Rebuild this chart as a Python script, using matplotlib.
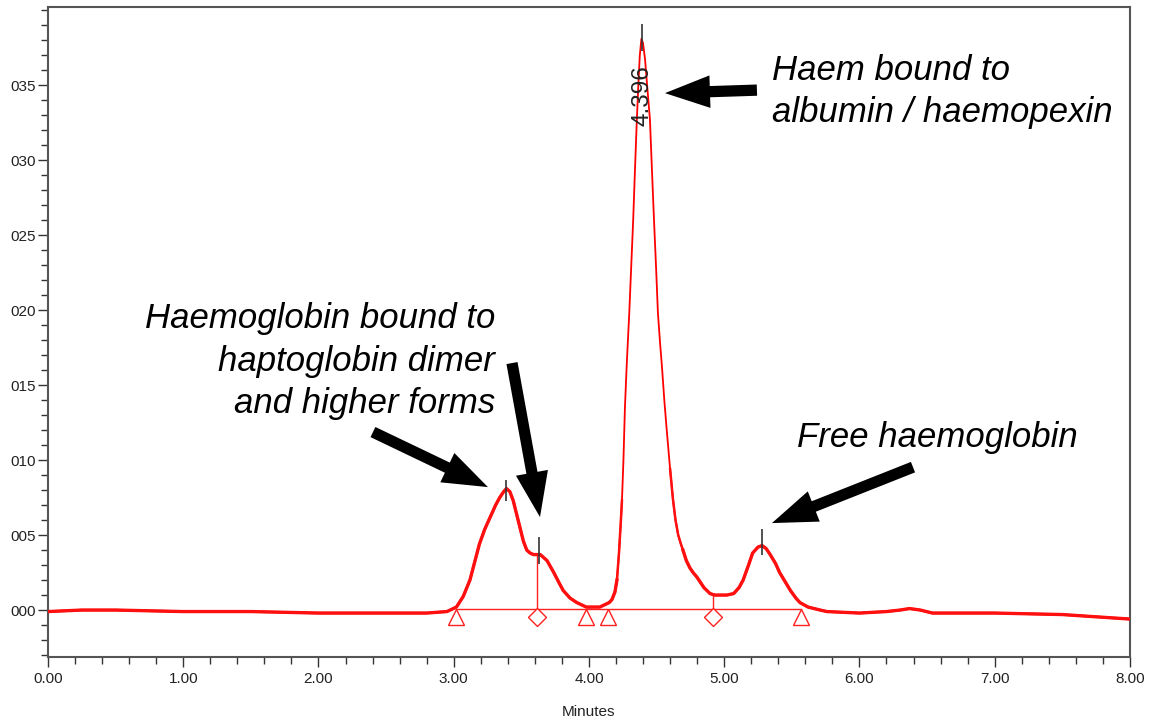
#!/usr/bin/env python3

import numpy as np
import matplotlib
matplotlib.use('Agg')
import matplotlib.pyplot as plt
from matplotlib.ticker import MultipleLocator, FuncFormatter
from matplotlib.patches import FancyArrowPatch

plt.rcParams['font.family'] = ['Liberation Sans', 'DejaVu Sans']

# chromatogram trace (minutes, AU)
t_min = [0.00, 0.25, 0.50, 1.00, 1.50, 2.00, 2.50, 2.80, 2.95, 3.02,
         3.07, 3.12, 3.155, 3.19, 3.23, 3.27, 3.31, 3.34, 3.37, 3.39,
         3.415, 3.44, 3.465, 3.49, 3.515, 3.54, 3.565, 3.59, 3.64, 3.69,
         3.74, 3.78, 3.81, 3.86, 3.91, 3.98, 4.08, 4.15, 4.170, 4.192,
         4.207, 4.222, 4.235, 4.244, 4.255, 4.266, 4.280, 4.298, 4.312, 4.327,
         4.340, 4.352, 4.365, 4.376, 4.388, 4.400, 4.415, 4.430, 4.451, 4.466,
         4.481, 4.496, 4.510, 4.525, 4.540, 4.558, 4.577, 4.600, 4.621, 4.640,
         4.660, 4.680, 4.695, 4.720, 4.747, 4.770, 4.798, 4.85, 4.895, 4.93,
         4.97, 5.02, 5.07, 5.11, 5.14, 5.18, 5.21, 5.25, 5.28, 5.31,
         5.34, 5.38, 5.41, 5.45, 5.49, 5.53, 5.56, 5.62, 5.71, 5.76,
         6.00, 6.20, 6.30, 6.37, 6.45, 6.54, 7.00, 7.50, 8.00]
absorb = [-0.0001, 0.0000, 0.0000, -0.0001, -0.0001, -0.0002, -0.0002, -0.0002, -0.0001, 0.0002,
          0.0009, 0.0020, 0.0032, 0.0044, 0.0054, 0.0062, 0.0070, 0.0075, 0.0079, 0.0081,
          0.0079, 0.0073, 0.0064, 0.0055, 0.0046, 0.0040, 0.0038, 0.0037, 0.0037, 0.0033,
          0.0025, 0.0018, 0.0013, 0.0008, 0.0005, 0.0002, 0.0002, 0.0005, 0.0007, 0.0012,
          0.0020, 0.0038, 0.0058, 0.0073, 0.0100, 0.0135, 0.0165, 0.0198, 0.0228, 0.0260,
          0.0293, 0.0322, 0.0350, 0.0370, 0.0381, 0.0378, 0.0367, 0.0350, 0.0327, 0.0293,
          0.0260, 0.0229, 0.0198, 0.0179, 0.0162, 0.0139, 0.0118, 0.0094, 0.0074, 0.0060,
          0.0050, 0.0044, 0.0040, 0.0033, 0.0028, 0.0025, 0.0022, 0.0015, 0.0011, 0.0010,
          0.0010, 0.0010, 0.0011, 0.0015, 0.0020, 0.0030, 0.0038, 0.0042, 0.0043, 0.0041,
          0.0037, 0.0031, 0.0025, 0.0019, 0.0013, 0.0008, 0.0005, 0.0002, 0.0000, -0.0001,
          -0.0002, -0.0001, 0.0000, 0.0001, 0.0000, -0.0002, -0.0002, -0.0003, -0.0006]

# integration marks
base_t = [3.02, 5.57]
base_v = 0.00007
tri_t = [3.02, 3.98, 4.14, 5.57]
dia_t = [3.615, 4.915]
drop_top = [0.0037, 0.0011]

# peak apex ticks
apex_t = [3.39, 3.63, 4.39, 5.28]
apex_lo = [0.0073, 0.0031, 0.0373, 0.0037]
apex_hi = [0.0087, 0.0049, 0.0391, 0.0054]

t = np.array(t_min)
v = np.array(absorb)

fig = plt.figure(figsize=(11.53, 7.2), dpi=100)
ax = fig.add_axes([0.0416, 0.0875, 0.9384, 0.9025])

# noisy parts drawn thick, main peak thin, a medium width in between
ax.plot(t, v, color='#ff0000', lw=1.3, zorder=3)
v_mid = np.where((t > 4.25) & (t < 4.60), np.nan, v)
ax.plot(t, v_mid, color='#ff1010', lw=1.8, zorder=3)
v_thick = np.where((t > 4.21) & (t < 4.69), np.nan, v)
ax.plot(t, v_thick, color='#ff1010', lw=2.4, zorder=3)

ax.plot(base_t, [base_v, base_v], color='#ff2020', lw=1.0, zorder=2)
for dt, top in zip(dia_t, drop_top):
    ax.plot([dt, dt], [base_v, top], color='#ff2020', lw=1.0, zorder=2)
ax.plot(tri_t, [base_v - 0.00055] * len(tri_t), ls='none', marker='^', ms=12,
        mfc='white', mec='#ff2020', mew=1.0, zorder=4)
ax.plot(dia_t, [base_v - 0.00055] * len(dia_t), ls='none', marker='D', ms=9,
        mfc='white', mec='#ff2020', mew=1.0, zorder=4)

ax.vlines(apex_t, apex_lo, apex_hi, color='#333333', lw=1.2, zorder=5)
ax.text(4.398, 0.0343, '4.396', rotation=90, ha='center', va='center',
        fontsize=17.5, color='#222222', zorder=6)

ax.set_xlim(0, 8)
ax.set_ylim(-0.00313, 0.0402)
ax.xaxis.set_major_locator(MultipleLocator(1.0))
ax.xaxis.set_minor_locator(MultipleLocator(0.2))
ax.set_yticks(np.arange(0, 0.0351, 0.005))
ax.yaxis.set_minor_locator(MultipleLocator(0.001))
ax.xaxis.set_major_formatter(FuncFormatter(lambda x, p: '%.2f' % x))
ax.yaxis.set_major_formatter(FuncFormatter(lambda y, p: '%03d' % round(y * 1000)))
ax.tick_params(axis='both', which='major', direction='out', length=7, width=1.0,
               labelsize=11, color='#333333', labelcolor='#222222')
ax.tick_params(axis='both', which='minor', direction='out', length=5, width=1.0, color='#333333')
ax.tick_params(axis='y', pad=2)
for s in ax.spines.values():
    s.set_color('#555555')
    s.set_linewidth(1.5)
ax.set_xlabel('Minutes', fontsize=11, color='#222222', labelpad=14)

# annotations
txt = dict(fontsize=25, style='italic', color='black', linespacing=1.36)
ax.text(5.353, 0.0346, 'Haem bound to\nalbumin / haemopexin', ha='left', va='center', **txt)
ax.text(3.305, 0.0166, 'Haemoglobin bound to\nhaptoglobin dimer\nand higher forms',
        ha='right', va='center', multialignment='right', **txt)
ax.text(5.538, 0.0115, 'Free haemoglobin', ha='left', va='center', **txt)

arrows = [((5.242, 0.03467), (4.562, 0.03447)),
          ((2.403, 0.01187), (3.253, 0.00820)),
          ((3.431, 0.01647), (3.638, 0.00620)),
          ((6.396, 0.00953), (5.353, 0.00580))]
for tail, tip in arrows:
    ax.add_patch(FancyArrowPatch(tail, tip, arrowstyle='simple,head_width=2.6,head_length=3.6,tail_width=0.9',
                                 mutation_scale=9, color='black', lw=0, shrinkA=0, shrinkB=0, zorder=7))

plt.savefig('out.png', dpi=100)
